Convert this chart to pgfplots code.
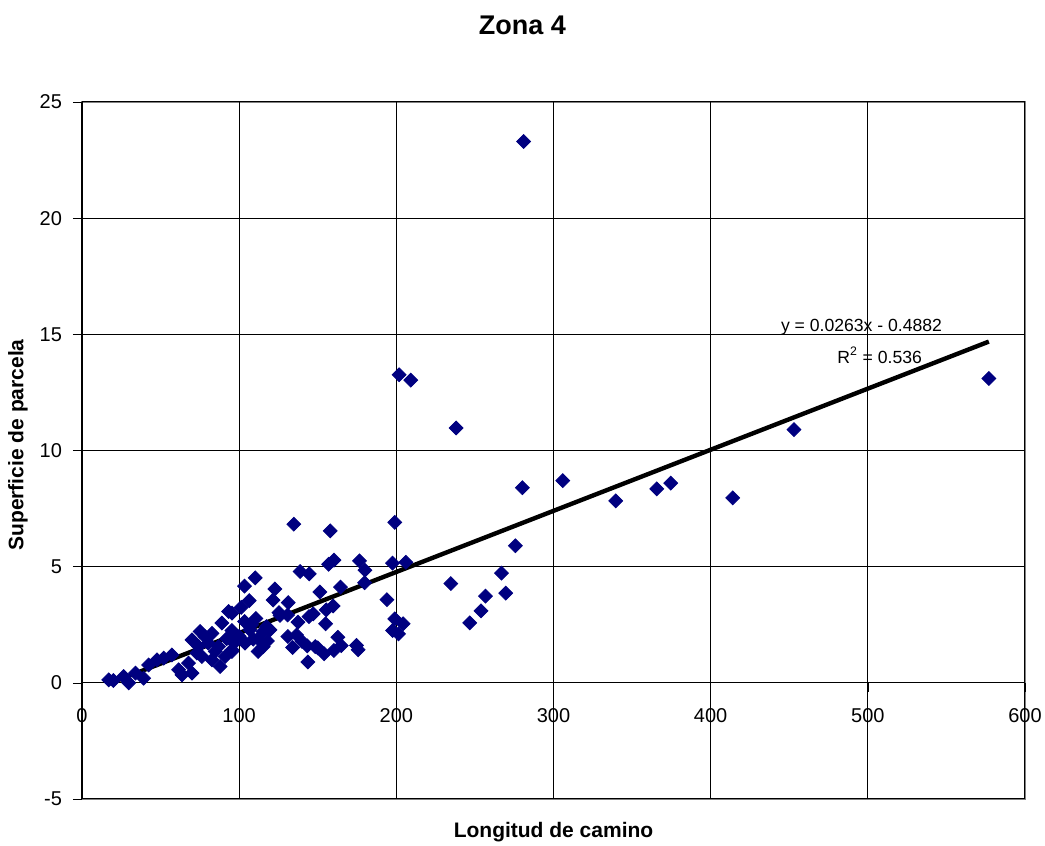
\documentclass[border=0pt]{standalone}
\usepackage{fontspec}
\setmainfont{Liberation Sans}
\usepackage{pgfplots}
\pgfplotsset{compat=1.18}
\definecolor{navy}{RGB}{0,0,128}
\begin{document}
\begin{tikzpicture}
\begin{axis}[
  scale only axis,
  width=471.5pt, height=348.5pt,
  xmin=0, xmax=600, ymin=-5, ymax=25,
  xtick={0,100,...,600}, ytick={-5,0,...,25},
  axis x line=middle, axis y line=left,
  axis line style={-, black, line width=0.6pt},
  hide obscured x ticks=false, hide obscured y ticks=false,
  axis background/.style={draw=gray, line width=1.2pt},
  grid=major, major grid style={black, line width=0.5pt},
  tick align=outside, major tick length=4.5pt, tick style={black},
  /pgf/number format/assume math mode=true,
  ticklabel style={font=\fontsize{10}{12}\selectfont},
  xticklabel style={yshift=-5pt},
  yticklabel style={xshift=-2pt},
  clip=false,
]
\addplot[only marks, mark=square*, mark size=2.45pt, mark options={rotate=45, fill=navy, draw=navy}] coordinates {
(281,23.3) (201.8,13.26) (209.2,13.03) (238,10.97) (577,13.1) (453,10.9)
(305.9,8.70) (280.2,8.40) (374.6,8.6) (365.7,8.35) (339.6,7.83) (414,7.96)
(275.8,5.9) (266.9,4.72) (269.6,3.86) (256.7,3.73) (253.9,3.10) (246.7,2.58)
(234.7,4.27) (199,6.91) (197.6,5.15) (206,5.19) (194,3.58) (199,2.75)
(204.3,2.54) (197.6,2.25) (201.4,2.11)
(134.8,6.83) (157.9,6.54) (160.3,5.28) (156.9,5.1) (176.6,5.25) (180,4.85)
(138.8,4.79) (144.6,4.69) (110.2,4.52) (103.4,4.16) (122.7,4.04) (164.5,4.12)
(179.8,4.31) (151.3,3.91) (121.6,3.56) (131.2,3.45) (106.4,3.54) (101.3,3.25)
(159.8,3.31) (155.4,3.14) (125.3,3.02) (95.4,3.0) (144.4,2.85) (147.1,2.97)
(130.8,2.92) (137.4,2.61) (155,2.54) (103.4,2.64) (110.6,2.77) (117.4,2.42)
(115.3,2.21) (106.8,2.28) (95.4,2.25) (96.8,1.71) (95.4,1.35) (131,1.99)
(136.5,2.06) (140,1.78) (143.3,1.59) (148.4,1.56) (134,1.52) (162.8,1.96)
(160.3,1.39) (154.1,1.25) (174.7,1.61) (175.7,1.42) (143.7,0.90) (112.1,1.35)
(115.3,1.56) (103.7,1.71) (108.9,1.88) (119.6,2.28)
(17,0.13) (26.5,0.27) (29.7,0.0) (34,0.42) (39.2,0.20) (42.4,0.77)
(47.7,0.99) (52,1.06) (57.2,1.2) (61.5,0.56) (63.6,0.34) (70,0.42)
(67.8,0.85) (70,1.85) (75.2,2.21) (78.2,1.99) (80.3,1.71) (82.7,2.13)
(86.9,1.56) (89,2.57) (93.3,3.07) (91.1,1.13) (87.9,0.70) (84.8,1.35)
(76.3,1.13) (95.4,1.42) (74.2,1.56) (73.1,1.28) (82.7,0.99) (20,0.1)
(112,1.9) (118,1.8) (108,2.5) (126,2.9) (100,2.0) (92,1.9) (150,1.5) (165,1.6)
};
\addplot[black, line width=2.2pt] coordinates {(17,-0.041) (577,14.687)};
\node[font=\fontsize{8.8}{10}\selectfont] at (axis cs:496,15.31) {y = 0.0263x - 0.4882};
\node[font=\fontsize{8.8}{10}\selectfont] at (axis cs:507.5,14.1) {R\textsuperscript{2} = 0.536};
\end{axis}
\node[font=\fontsize{13.5}{15}\bfseries\selectfont] at (220.25pt,387pt) {Zona 4};
\node[font=\fontsize{10.5}{12}\bfseries\selectfont] at (235.75pt,-16.5pt) {Longitud de camino};
\node[font=\fontsize{10.5}{12}\bfseries\selectfont, rotate=90] at (-32pt,177pt) {Superficie de parcela};
\pgfresetboundingbox
\path[use as bounding box] (-41pt,-23.5pt) rectangle (481.5pt,399.5pt);
\end{tikzpicture}
\end{document}
